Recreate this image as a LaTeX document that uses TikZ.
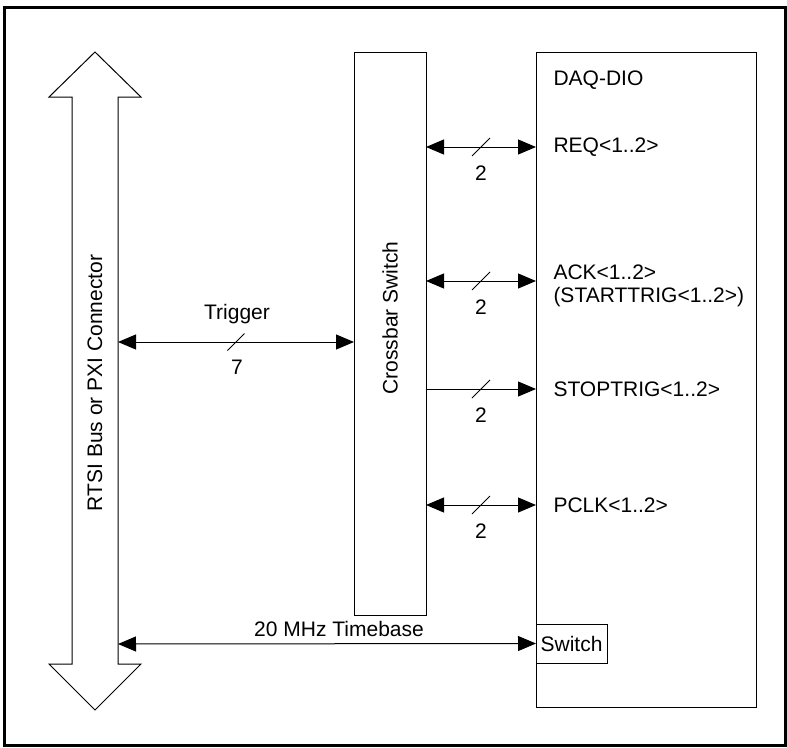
\documentclass[tikz,border=0pt]{standalone}
\usepackage{fontspec}
\setmainfont{Liberation Sans}
\usetikzlibrary{arrows.meta}
\begin{document}
\begin{tikzpicture}[x=1pt,y=-1pt,
  line width=1pt,
  tri/.tip={Triangle[length=18pt,width=15pt]},
  onetip/.style={-tri},
  twotip/.style={tri-tri},
  lbl/.style={font=\fontsize{21}{25}\selectfont, inner sep=0pt},
  blk/.style={draw, line width=1pt, inner sep=0pt, outer sep=0pt},
  frame/.style={line width=3pt},
  slash/.style={line width=1pt}
  ]
\useasboundingbox (0,0) rectangle (787,747);
\draw[frame] (4,7) rectangle (785,745);

% big bidirectional bus arrow
\draw[fill=white] (95,52) -- (141,97) -- (118,97) -- (118,664) -- (141,664) -- (95,710)
  -- (49,664) -- (72,664) -- (72,97) -- (49,97) -- cycle;
\coordinate (bustrig) at (118,342);
\coordinate (bustime) at (118,644);
\node[lbl, rotate=90] (bus) at (95,383) {RTSI Bus or PXI Connector};

% blocks
\node[blk, minimum width=72pt, minimum height=563pt] (xbar) at (390,333.5) {};
\node[lbl, rotate=90] (xbarlbl) at (390,318) {Crossbar Switch};
\node[blk, minimum width=220pt, minimum height=655pt] (daq) at (646,379.5) {};
\node[lbl, anchor=west] (daqlbl) at (553,80) {DAQ-DIO};
\node[blk, minimum width=71pt, minimum height=39pt, font=\fontsize{21}{25}\selectfont] (sw) at (571.5,643.5) {Switch};

% signal labels
\node[lbl, anchor=west] (req) at (553,147) {REQ<1..2>};
\node[lbl, anchor=west] (ack) at (553,272) {ACK<1..2>};
\node[lbl, anchor=west] (start) at (553,297) {(STARTTRIG<1..2>)};
\coordinate (ackrow) at (553,281);
\node[lbl, anchor=west] (stop) at (553,389) {STOPTRIG<1..2>};
\node[lbl, anchor=west] (pclk) at (553,505) {PCLK<1..2>};

% trigger
\draw[twotip] (bustrig) -- (xbar.west |- bustrig) coordinate[pos=0.5] (mt);
\draw[slash] ([shift={(-8.5,8.5)}]mt) -- ([shift={(8.5,-8.5)}]mt);
\node[lbl] (trig) at (237,314) {Trigger};
\node[lbl] (n7) at (237,367) {7};

% REQ
\draw[twotip] (xbar.east |- req) -- (daq.west |- req) coordinate[pos=0.5] (m1);
\draw[slash] ([shift={(-9,9)}]m1) -- ([shift={(9,-9)}]m1);
\node[lbl] (n1) at ([yshift=-26pt]m1) {2};
% ACK
\draw[twotip] (xbar.east |- ackrow) -- (daq.west |- ackrow) coordinate[pos=0.5] (m2);
\draw[slash] ([shift={(-9,9)}]m2) -- ([shift={(9,-9)}]m2);
\node[lbl] (n2) at ([yshift=-26pt]m2) {2};
% STOPTRIG
\draw[onetip] (xbar.east |- stop) -- (daq.west |- stop) coordinate[pos=0.5] (m3);
\draw[slash] ([shift={(-9,9)}]m3) -- ([shift={(9,-9)}]m3);
\node[lbl] (n3) at ([yshift=-26pt]m3) {2};
% PCLK
\draw[twotip] (xbar.east |- pclk) -- (daq.west |- pclk) coordinate[pos=0.5] (m4);
\draw[slash] ([shift={(-9,9)}]m4) -- ([shift={(9,-9)}]m4);
\node[lbl] (n4) at ([yshift=-26pt]m4) {2};

% timebase
\draw[twotip] (bustime) -- (sw.west);
\node[lbl] (tb) at (339,629) {20 MHz Timebase};
\end{tikzpicture}
\end{document}
